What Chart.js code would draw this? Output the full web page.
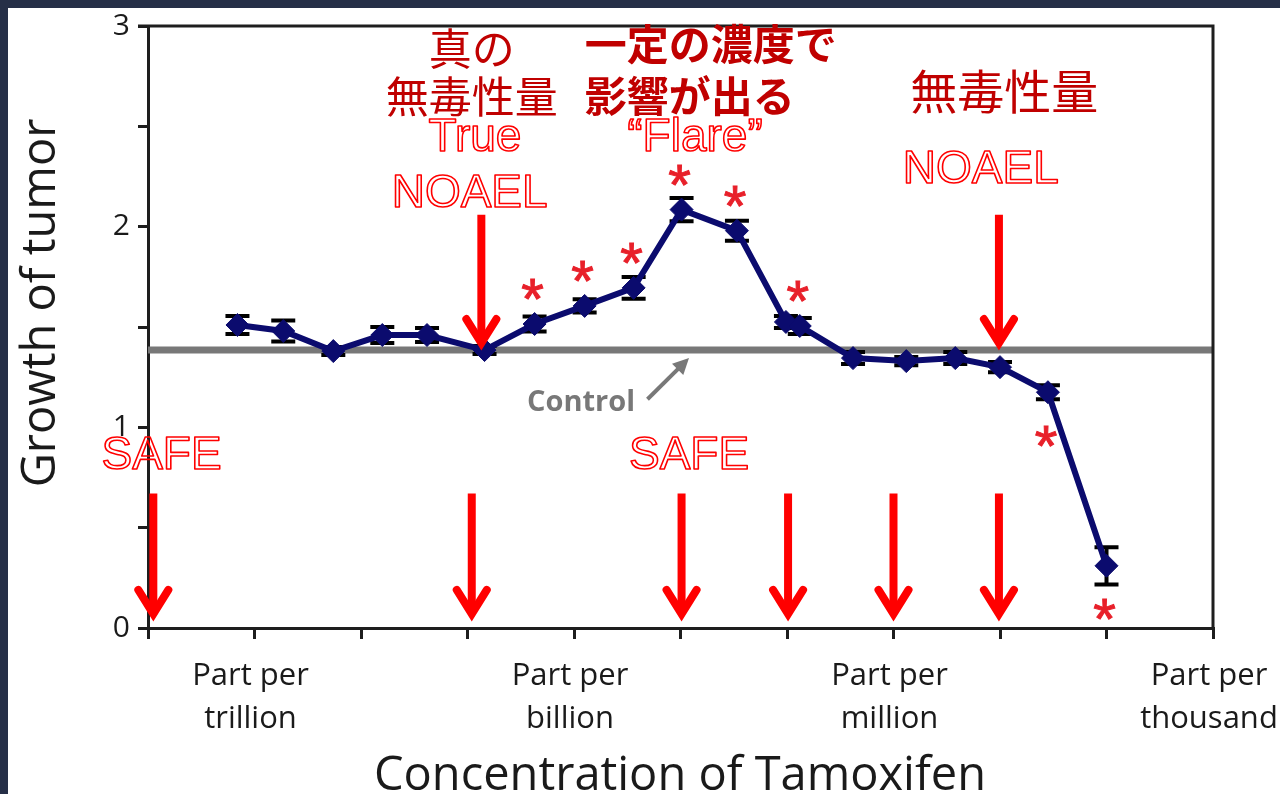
<!DOCTYPE html>
<html><head><meta charset="utf-8">
<script src="https://cdn.jsdelivr.net/npm/chart.js@4.4.1/dist/chart.umd.min.js"></script>
<style>
html,body{margin:0;padding:0;background:#262f47;width:1280px;height:794px;overflow:hidden}
#sheet{position:absolute;left:8px;top:8px;width:1272px;height:786px;background:#fff}
#wrap{position:absolute;left:0;top:0;width:1280px;height:794px}
</style></head><body>
<div id="sheet"></div>
<div id="wrap"><canvas id="c" width="1280" height="794"></canvas></div>
<script>
// ---- data (x in log-concentration axis units, y = growth of tumor) ----
const concentrationPos = [0.84,1.27,1.74,2.20,2.62,3.16,3.63,4.10,4.56,5.01,5.53,5.99,6.12,6.62,7.12,7.58,8.00,8.45,9.00];
const tumorGrowth      = [1.51,1.48,1.38,1.46,1.46,1.385,1.515,1.605,1.695,2.085,1.98,1.525,1.505,1.345,1.33,1.345,1.30,1.175,0.31];
const errorSEM         = [0.045,0.052,0.02,0.04,0.035,0.02,0.037,0.033,0.054,0.058,0.05,0.03,0.04,0.03,0.02,0.03,0.025,0.035,0.093];
const significance     = ['','','','','','','above','above','above','above','above','','above','','','','','below','below'];
const controlLevel = 1.385;
const controlSpan = [0, 10];
const xTickLabelPos = [1, 4, 7, 10];
const xTickLabels = [['Part per','trillion'],['Part per','billion'],['Part per','million'],['Part per','thousand']];
const safeArrowsX = [0.05, 3.04, 5.01, 6.01, 7.0, 7.99];
const safeArrowRange = [0.67, 0.05];
const noaelArrowsX = [3.13, 7.99];
const noaelArrowRange = [2.06, 1.40];

const FONT = '"Open Sans", "Noto Sans", sans-serif';
const JP = '"Noto Sans CJK JP", sans-serif';
const LAT = '"Liberation Sans", Arial, sans-serif';

// annotation texts placed in axis units
const annotations = [
  {t:'真の', x:3.04, y:2.886, font:'400 43px '+JP, fill:'#c00000', align:'center', base:'middle'},
  {t:'無毒性量', x:3.04, y:2.649, font:'400 43px '+JP, fill:'#c00000', align:'center', base:'middle'},
  {t:'True', x:3.07, y:2.376, font:'46px '+LAT, stroke:'#ff0000', align:'center', base:'alphabetic'},
  {t:'NOAEL', x:3.02, y:2.099, font:'46px '+LAT, stroke:'#ff0000', align:'center', base:'alphabetic'},
  {t:'一定の濃度で', x:4.10, y:2.911, font:'700 42px '+JP, fill:'#c00000', align:'left', base:'middle'},
  {t:'影響が出る', x:4.10, y:2.651, font:'700 42px '+JP, fill:'#c00000', align:'left', base:'middle'},
  {t:'\u201CFlare\u201D', x:5.136, y:2.376, font:'46px '+LAT, stroke:'#ff0000', align:'center', base:'alphabetic'},
  {t:'無毒性量', x:8.04, y:2.673, font:'400 47px '+JP, fill:'#c00000', align:'center', base:'middle'},
  {t:'NOAEL', x:7.82, y:2.218, font:'46px '+LAT, stroke:'#ff0000', align:'center', base:'alphabetic'},
  {t:'SAFE', x:0.127, y:0.792, font:'46px '+LAT, stroke:'#ff0000', align:'center', base:'alphabetic'},
  {t:'SAFE', x:5.08, y:0.792, font:'46px '+LAT, stroke:'#ff0000', align:'center', base:'alphabetic'},
  {t:'Control', x:4.066, y:1.079, font:'700 29px '+FONT, fill:'#787878', align:'center', base:'alphabetic'}
];

function arrowDown(ctx, x, y1, y2, color){
  ctx.save();
  ctx.strokeStyle = color; ctx.lineWidth = 8; ctx.lineCap = 'butt';
  ctx.beginPath(); ctx.moveTo(x, y1); ctx.lineTo(x, y2 - 4); ctx.stroke();
  ctx.lineCap = 'round'; ctx.lineJoin = 'miter';
  ctx.beginPath(); ctx.moveTo(x - 15, y2 - 28); ctx.lineTo(x, y2 - 4); ctx.lineTo(x + 15, y2 - 28); ctx.stroke();
  ctx.restore();
}

const annot = {
  id: 'annot',
  beforeDatasetDraw(chart, args){
    if (args.index !== 0) return;
    const {ctx, scales:{x, y}} = chart;
    ctx.save();
    ctx.strokeStyle = '#000'; ctx.lineWidth = 4;
    concentrationPos.forEach((cx, i) => {
      const px = x.getPixelForValue(cx);
      const top = y.getPixelForValue(tumorGrowth[i] + errorSEM[i]);
      const bot = y.getPixelForValue(tumorGrowth[i] - errorSEM[i]);
      ctx.beginPath();
      ctx.moveTo(px, top); ctx.lineTo(px, bot);
      ctx.moveTo(px - 12, top); ctx.lineTo(px + 12, top);
      ctx.moveTo(px - 12, bot); ctx.lineTo(px + 12, bot);
      ctx.stroke();
    });
    ctx.restore();
  },
  afterDatasetsDraw(chart){
    const {ctx, chartArea:a, scales:{x, y}} = chart;
    ctx.save();
    // frame top & right
    ctx.strokeStyle = '#1e1e1e'; ctx.lineWidth = 3;
    ctx.beginPath(); ctx.moveTo(a.left - 10, a.top); ctx.lineTo(a.right, a.top); ctx.lineTo(a.right, a.bottom); ctx.stroke();

    // significance asterisks
    ctx.fillStyle = '#e8202a'; ctx.strokeStyle = '#e8202a'; ctx.lineWidth = 1;
    ctx.font = '58px ' + LAT;
    ctx.textAlign = 'center'; ctx.textBaseline = 'alphabetic';
    const m = ctx.measureText('*');
    const mid = (m.actualBoundingBoxAscent - m.actualBoundingBoxDescent) / 2;
    concentrationPos.forEach((cx, i) => {
      if (!significance[i]) return;
      const px = x.getPixelForValue(cx);
      const py = y.getPixelForValue(tumorGrowth[i]);
      const off = significance[i] === 'above' ? -34 : 44;
      ctx.fillText('*', px - 2, py + off + mid);
      ctx.strokeText('*', px - 2, py + off + mid);
    });

    // red arrows
    safeArrowsX.forEach(v => arrowDown(ctx, x.getPixelForValue(v), y.getPixelForValue(safeArrowRange[0]), y.getPixelForValue(safeArrowRange[1]), '#ff0000'));
    noaelArrowsX.forEach(v => arrowDown(ctx, x.getPixelForValue(v), y.getPixelForValue(noaelArrowRange[0]), y.getPixelForValue(noaelArrowRange[1]), '#ff0000'));

    // control pointer arrow
    const ax1 = x.getPixelForValue(4.69), ay1 = y.getPixelForValue(1.14);
    const ax2 = x.getPixelForValue(5.08), ay2 = y.getPixelForValue(1.345);
    const ang = Math.atan2(ay2 - ay1, ax2 - ax1);
    ctx.strokeStyle = '#787878'; ctx.fillStyle = '#787878'; ctx.lineWidth = 4;
    ctx.beginPath(); ctx.moveTo(ax1, ay1); ctx.lineTo(ax2 - 10*Math.cos(ang), ay2 - 10*Math.sin(ang)); ctx.stroke();
    ctx.beginPath();
    ctx.moveTo(ax2, ay2);
    ctx.lineTo(ax2 - 16*Math.cos(ang) + 8*Math.sin(ang), ay2 - 16*Math.sin(ang) - 8*Math.cos(ang));
    ctx.lineTo(ax2 - 16*Math.cos(ang) - 8*Math.sin(ang), ay2 - 16*Math.sin(ang) + 8*Math.cos(ang));
    ctx.closePath(); ctx.fill();

    // text annotations
    annotations.forEach(o => {
      ctx.font = o.font; ctx.textAlign = o.align; ctx.textBaseline = o.base;
      const px = x.getPixelForValue(o.x), py = y.getPixelForValue(o.y);
      if (o.stroke){ ctx.lineWidth = 1.6; ctx.strokeStyle = o.stroke; ctx.lineJoin = 'round'; ctx.strokeText(o.t, px, py); }
      else { ctx.fillStyle = o.fill; ctx.fillText(o.t, px, py); }
    });

    // x tick labels
    ctx.fillStyle = '#1a1a1a'; ctx.font = '31px ' + FONT; ctx.textAlign = 'center'; ctx.textBaseline = 'alphabetic';
    xTickLabelPos.forEach((v, i) => {
      const px = x.getPixelForValue(v);
      xTickLabels[i].forEach((line, j) => ctx.fillText(line, px - 4, a.bottom + 57 + j * 43));
    });

    // axis titles
    ctx.font = '47px ' + FONT; ctx.fillStyle = '#1a1a1a';
    ctx.fillText('Concentration of Tamoxifen', 680, 790);
    ctx.save(); ctx.translate(55, 303); ctx.rotate(-Math.PI/2);
    ctx.textBaseline = 'alphabetic'; ctx.fillText('Growth of tumor', 0, 0);
    ctx.restore();
    ctx.restore();
  }
};

const axisColor = '#1e1e1e';
new Chart(document.getElementById('c'), {
  type: 'line',
  data: {
    datasets: [
      {label:'Tamoxifen', data: concentrationPos.map((v, i) => ({x: v, y: tumorGrowth[i]})),
       borderColor:'#0b0b6e', backgroundColor:'#0b0b6e', borderWidth:6, pointStyle:'rectRot',
       pointRadius:11.5, pointBorderWidth:1, pointHoverRadius:11.5, tension:0, order:0},
      {label:'Control', data: controlSpan.map(v => ({x: v, y: controlLevel})),
       borderColor:'#787878', borderWidth:7, pointRadius:0, order:1}
    ]
  },
  options: {
    responsive:false, animation:false, devicePixelRatio:1,
    layout:{padding:{left:0, top:22, right:67, bottom:0}},
    plugins:{legend:{display:false}, tooltip:{enabled:false}},
    scales:{
      x:{type:'linear', min:0, max:10,
         ticks:{stepSize:1, display:false},
         grid:{drawOnChartArea:false, drawTicks:true, tickLength:11, color:axisColor, lineWidth:3},
         border:{display:true, color:axisColor, width:3},
         afterFit(s){ s.height = 166; }},
      y:{min:0, max:3,
         ticks:{stepSize:0.5, callback:v => Number.isInteger(v) ? String(v) : '', font:{family:'Open Sans', size:30}, color:'#1a1a1a', padding:8},
         grid:{drawOnChartArea:false, drawTicks:true, tickLength:10, color:axisColor, lineWidth:3},
         border:{display:true, color:axisColor, width:3},
         afterFit(s){ s.width = 148; }}
    }
  },
  plugins:[annot]
});
</script>
</body></html>
